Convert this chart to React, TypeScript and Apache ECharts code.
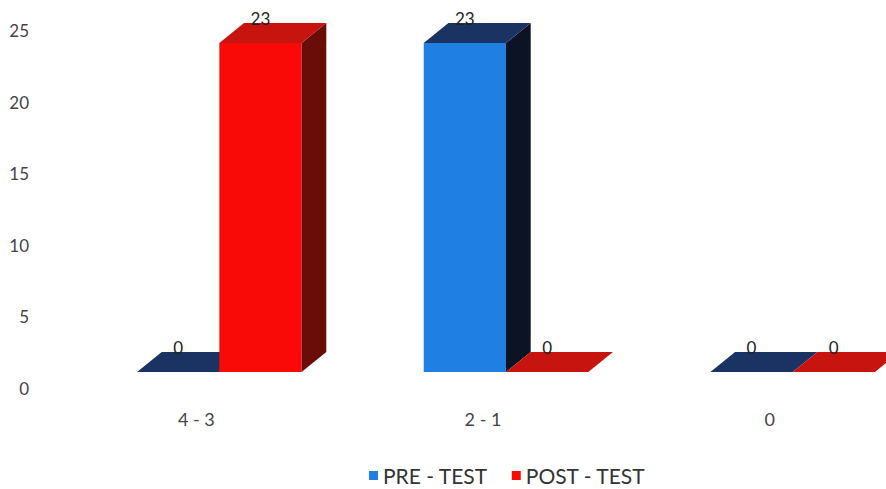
import React, { useEffect, useRef } from "react";
import * as echarts from "echarts";

const categories = ["4 - 3", "2 - 1", "0"];
const preTest = [0, 23, 0];
const postTest = [23, 0, 0];
const yTicks = { min: 0, max: 25, interval: 5 };

const FONT = "Lato, 'Open Sans', sans-serif";

const palettes = {
  pre: { front: "#1f7fe3", top: "#1b3363", side: "#0b1324" },
  post: { front: "#fa0a06", top: "#c8140e", side: "#6a0c08" },
};

function make3D(pal: { front: string; top: string; side: string }, seriesIdx: number) {
  return (params: any, api: any) => {
    const cat = api.value(0);
    const val = api.value(1);
    const base = api.coord([cat, 0]);
    const top = api.coord([cat, val]);
    const band = api.size([1, 0])[0];
    const bw = band * 0.287;
    const dx = bw * 0.3;
    const dy = 20;
    const x0 = seriesIdx === 0 ? base[0] - bw : base[0];
    const x1 = x0 + bw;
    const yb = base[1];
    const yt = top[1];
    const children: any[] = [];
    if (yb - yt > 0.5) {
      children.push({
        type: "rect",
        shape: { x: x0, y: yt, width: bw, height: yb - yt },
        style: { fill: pal.front },
      });
      children.push({
        type: "polygon",
        shape: { points: [[x1, yt], [x1 + dx, yt - dy], [x1 + dx, yb - dy], [x1, yb]] },
        style: { fill: pal.side },
      });
    }
    children.push({
      type: "polygon",
      shape: { points: [[x0, yt], [x1, yt], [x1 + dx, yt - dy], [x0 + dx, yt - dy]] },
      style: { fill: pal.top },
    });
    children.push({
      type: "text",
      style: {
        text: String(val),
        x: x0 + bw / 2,
        y: yt - dy + 4,
        align: "center",
        verticalAlign: "bottom",
        fontSize: 17,
        fontFamily: FONT,
        fill: "#222",
      },
    });
    return { type: "group", children };
  };
}

export default function App() {
  const ref = useRef<HTMLDivElement>(null);
  useEffect(() => {
    const chart = echarts.init(ref.current!, null, { renderer: "svg" });
    chart.setOption({
      animation: false,
      backgroundColor: "#ffffff",
      grid: [
        { left: 53, width: 860, top: 30.5, height: 357.5 },
        { left: 76, width: 860, top: 14.5, height: 357.5 },
      ],
      xAxis: [
        {
          type: "category",
          gridIndex: 0,
          data: categories,
          axisLine: { show: false },
          axisTick: { show: false },
          axisLabel: { margin: 22, fontSize: 18, fontFamily: FONT, color: "#444" },
        },
        { type: "category", gridIndex: 1, data: categories, show: false },
      ],
      yAxis: [
        {
          type: "value",
          gridIndex: 0,
          min: yTicks.min,
          max: yTicks.max,
          interval: yTicks.interval,
          axisLine: { show: false },
          axisTick: { show: false },
          splitLine: { show: false },
          axisLabel: { margin: 24, fontSize: 17, fontFamily: FONT, color: "#444" },
        },
        { type: "value", gridIndex: 1, min: yTicks.min, max: yTicks.max, show: false },
      ],
      legend: {
        left: 364,
        top: 460,
        icon: "rect",
        itemWidth: 9,
        itemHeight: 9,
        itemGap: 24,
        textStyle: { fontSize: 21, fontFamily: FONT, color: "#333" },
        data: [
          { name: "PRE - TEST", itemStyle: { color: palettes.pre.front } },
          { name: "POST - TEST", itemStyle: { color: palettes.post.front } },
        ],
      },
      series: [
        {
          name: "PRE - TEST",
          type: "custom",
          xAxisIndex: 1,
          yAxisIndex: 1,
          itemStyle: { color: palettes.pre.front },
          encode: { x: 0, y: 1 },
          data: preTest.map((v, i) => [i, v]),
          renderItem: make3D(palettes.pre, 0),
        },
        {
          name: "POST - TEST",
          type: "custom",
          xAxisIndex: 1,
          yAxisIndex: 1,
          itemStyle: { color: palettes.post.front },
          encode: { x: 0, y: 1 },
          data: postTest.map((v, i) => [i, v]),
          renderItem: make3D(palettes.post, 1),
        },
      ],
    });
    return () => chart.dispose();
  }, []);
  return (
    <div style={{ width: 886, height: 489, position: "absolute", left: 0, top: 0, overflow: "hidden" }}>
      <div ref={ref} style={{ width: 960, height: 489 }} />
    </div>
  );
}
